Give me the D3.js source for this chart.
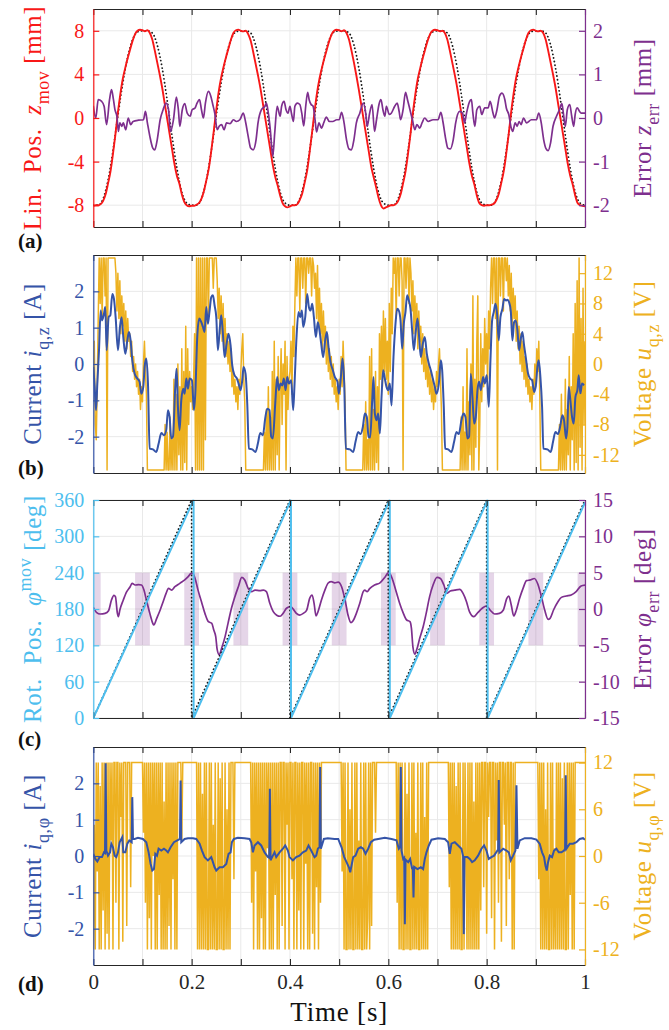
<!DOCTYPE html>
<html><head><meta charset="utf-8">
<script src="https://cdn.jsdelivr.net/npm/d3@7"></script>
<style>
body{margin:0;background:#fff;}
svg text{font-family:"Liberation Serif","Times New Roman","DejaVu Serif",serif;}
</style></head><body>
<svg id="c" width="669" height="1030"></svg>
<script>
// ---------------- DATA ----------------
const timeTicks = [0,0.1,0.2,0.3,0.4,0.5,0.6,0.7,0.8,0.9,1];
const timeLabels = ["0","","0.2","","0.4","","0.6","","0.8","","1"];

// (a) linear position z_mov [mm], sampled every 5 ms
const zMov = [
-8.05,-8.0,-8.0,-7.9,-7.6,-7.0,-6.0,-4.9,-3.3,-1.5,
0.5,2.2,3.6,4.6,5.5,6.3,7.1,7.7,8.0,8.1,
8.05,7.95,8.05,7.8,7.2,6.2,5.1,4.0,2.8,1.4,
0.0,-1.4,-2.8,-4.2,-5.3,-6.0,-7.0,-7.7,-8.0,-8.1,
-8.05,-8.05,-7.95,-7.8,-7.4,-6.7,-5.7,-4.6,-3.0,-1.2,
0.7,2.4,3.7,4.7,5.6,6.4,7.2,7.8,8.05,8.1,
8.0,7.95,8.0,7.7,7.1,6.1,5.0,3.9,2.7,1.3,
-0.1,-1.5,-2.9,-4.3,-5.4,-6.2,-7.1,-7.8,-8.1,-8.2,
-8.1,-8.0,-8.0,-7.9,-7.5,-6.9,-5.9,-4.8,-3.1,-1.3,
0.6,2.3,3.6,4.6,5.5,6.3,7.1,7.7,8.0,8.1,
8.05,7.95,8.05,7.8,7.2,6.2,5.1,3.9,2.6,1.2,
-0.2,-1.6,-3.0,-4.4,-5.4,-6.3,-7.3,-8.0,-8.3,-8.2,
-8.1,-8.0,-8.0,-7.9,-7.6,-7.0,-6.0,-4.9,-3.3,-1.5,
0.5,2.2,3.6,4.6,5.5,6.3,7.1,7.7,8.0,8.1,
8.05,7.95,8.0,7.8,7.2,6.2,5.1,4.0,2.8,1.4,
0.0,-1.4,-2.8,-4.2,-5.3,-6.1,-7.1,-7.8,-8.0,-8.05,
-8.0,-8.0,-7.95,-7.85,-7.5,-6.9,-5.9,-4.8,-3.2,-1.4,
0.6,2.3,3.7,4.7,5.6,6.4,7.2,7.8,8.05,8.1,
8.0,7.95,8.0,7.8,7.2,6.2,5.1,4.0,2.8,1.4,
0.0,-1.4,-2.8,-4.2,-5.3,-6.1,-7.1,-7.8,-8.0,-8.05,
-8.1];
// (a) reference z [mm], sampled every 10 ms
const zRef = [
-8,-8,-7.4,-5.7,-3.0,0.2,3.2,5.6,7.2,7.9,8.0,8.0,7.8,6.7,4.6,1.7,-1.6,-4.6,-6.8,-7.8,
-8,-8,-7.4,-5.7,-3.0,0.2,3.2,5.6,7.2,7.9,8.0,8.0,7.8,6.7,4.6,1.7,-1.6,-4.6,-6.8,-7.8,
-8,-8,-7.4,-5.7,-3.0,0.2,3.2,5.6,7.2,7.9,8.0,8.0,7.8,6.7,4.6,1.7,-1.6,-4.6,-6.8,-7.8,
-8,-8,-7.4,-5.7,-3.0,0.2,3.2,5.6,7.2,7.9,8.0,8.0,7.8,6.7,4.6,1.7,-1.6,-4.6,-6.8,-7.8,
-8,-8,-7.4,-5.7,-3.0,0.2,3.2,5.6,7.2,7.9,8.0,8.0,7.8,6.7,4.6,1.7,-1.6,-4.6,-6.8,-7.8,
-8];
// (a) error z_err [mm]: [time s, value]
const zErr = [
[0,0.28],[0.005,0.0],[0.010,0.42],[0.017,0.38],[0.022,0.27],[0.027,-0.15],[0.033,0.42],[0.037,0.65],[0.041,0.42],[0.044,0.19],
[0.048,0.04],[0.051,-0.31],[0.054,-0.11],[0.058,-0.19],[0.061,-0.11],[0.066,-0.27],[0.071,0.0],[0.076,-0.15],[0.081,-0.08],[0.092,-0.05],
[0.102,-0.04],[0.106,0.15],[0.110,-0.11],[0.115,-0.42],[0.121,-0.69],[0.125,-0.73],[0.130,-0.5],[0.136,-0.04],[0.142,0.19],[0.148,0.34],
[0.153,0.19],[0.157,-0.31],[0.163,-0.04],[0.169,0.48],[0.173,0.19],[0.176,-0.19],[0.181,0.19],[0.186,0.33],[0.191,0.11],[0.197,0.04],
[0.201,0.19],[0.207,0.23],[0.211,0.34],[0.216,0.42],[0.220,0.19],[0.224,0.0],[0.228,0.34],[0.234,0.61],[0.239,0.5],[0.243,0.31],
[0.247,0.11],[0.252,-0.27],[0.256,-0.19],[0.261,-0.15],[0.266,-0.27],[0.271,-0.11],[0.278,-0.13],[0.285,-0.04],[0.291,-0.08],[0.298,-0.04],
[0.305,0.11],[0.310,-0.11],[0.315,-0.42],[0.320,-0.69],[0.325,-0.73],[0.331,-0.5],[0.335,-0.11],[0.342,0.19],[0.349,0.27],[0.352,0.34],
[0.356,0.11],[0.360,-0.27],[0.365,-0.88],[0.369,-0.34],[0.374,0.27],
[0.380,0.04],[0.383,0.27],[0.388,0.38],[0.392,0.19],[0.396,0.11],[0.400,0.27],[0.403,0.11],[0.407,-0.08],[0.410,0.27],[0.415,0.34],
[0.420,0.31],[0.424,0.11],[0.428,-0.18],[0.432,0.27],[0.436,0.59],[0.439,0.42],[0.443,0.31],[0.447,0.27],[0.451,-0.04],[0.454,-0.32],
[0.459,-0.11],[0.464,-0.23],[0.469,-0.10],[0.474,0.02],[0.480,-0.08],[0.487,-0.08],[0.495,-0.04],[0.500,-0.04],[0.505,0.13],[0.510,-0.11],
[0.515,-0.5],[0.520,-0.71],[0.525,-0.73],[0.530,-0.5],[0.535,-0.11],[0.542,0.11],[0.549,0.34],[0.554,0.11],[0.557,-0.19],[0.562,0.11],
[0.567,0.31],[0.572,-0.31],[0.576,-0.04],[0.581,0.31],[0.585,0.42],[0.589,0.19],[0.593,0.04],[0.596,0.27],[0.602,0.08],[0.606,0.11],
[0.613,0.27],[0.618,0.34],[0.622,0.15],[0.625,-0.04],[0.630,0.19],[0.635,0.59],[0.639,0.42],[0.644,0.19],[0.649,-0.04],[0.654,-0.27],
[0.658,-0.15],[0.664,-0.23],[0.669,-0.10],[0.674,0.0],[0.681,-0.08],[0.691,-0.04],[0.701,-0.04],[0.707,0.13],[0.711,-0.08],[0.717,-0.5],
[0.721,-0.69],[0.726,-0.71],[0.732,-0.5],[0.737,-0.11],[0.745,0.15],[0.751,0.11],[0.755,-0.11],[0.759,0.11],[0.764,0.34],[0.769,0.42],
[0.772,0.11],[0.776,-0.19],[0.780,0.19],[0.786,0.27],[0.790,0.08],[0.796,0.23],[0.803,0.23],[0.807,0.38],[0.813,0.11],[0.816,0.0],
[0.821,0.19],[0.826,0.50],[0.831,0.57],[0.837,0.42],[0.840,0.23],[0.845,0.08],[0.850,-0.23],[0.853,-0.31],[0.858,-0.11],[0.862,-0.19],
[0.866,-0.08],[0.870,-0.15],[0.875,0.0],[0.881,-0.11],[0.891,-0.04],[0.901,-0.04],[0.906,0.11],[0.911,-0.11],[0.916,-0.5],[0.921,-0.71],
[0.925,-0.75],[0.930,-0.57],[0.935,-0.19],[0.942,0.04],[0.948,0.19],[0.953,0.33],[0.956,0.11],[0.960,-0.19],[0.964,0.19],[0.969,0.31],
[0.973,0.04],[0.977,-0.19],[0.980,0.08],[0.984,0.23],[0.989,0.15],[0.992,0.11],[0.996,0.11],[1.0,0.11]];

// (b) current i_q,z [A]: [time s, value]
const iqz = [
[0,-0.08],[0.0028,-0.63],[0.0055,-1.27],[0.0082,-0.54],[0.0116,0.38],[0.015,1.47],[0.0177,1.2],[0.0211,1.34],[0.0244,1.57],[0.0271,0.38],
[0.0312,1.29],[0.0346,1.34],[0.0387,1.93],[0.042,1.79],[0.0454,1.29],[0.0502,0.38],[0.0542,1.02],[0.0576,1.29],[0.061,0.74],[0.0651,0.28],
[0.0692,0.65],[0.0725,0.88],[0.0759,0.65],[0.0793,0.1],[0.0841,-0.27],[0.0895,-0.4],[0.0942,-0.49],[0.0976,-0.82],[0.1017,-0.63],[0.1044,-0.08],
[0.1078,0.15],[0.1112,-0.54],[0.1146,-2.33],[0.1213,-2.35],[0.1281,-2.42],[0.1329,-2.19],[0.1383,-1.9],[0.1437,-1.96],[0.1484,-1.82],[0.1518,-1.27],
[0.1552,-1.46],[0.1586,-2.05],[0.162,-2.0],[0.1667,-0.63],[0.1694,-0.13],[0.1721,-1.18],[0.1755,-1.82],[0.1789,-1.0],[0.183,-0.68],[0.1857,-0.82],
[0.1891,-0.4],[0.1925,-0.68],[0.1959,-0.4],[0.2006,-0.45],[0.2047,-1.27],[0.2074,-0.82],[0.2114,0.74],[0.2155,1.25],[0.2196,1.15],[0.223,1.02],
[0.2263,0.88],[0.2297,1.57],[0.2331,1.11],[0.2365,1.47],[0.2399,1.84],[0.2433,1.89],[0.2467,1.61],[0.2501,1.29],[0.2534,0.38],[0.2575,1.02],
[0.2602,1.34],[0.2636,0.83],[0.267,0.19],[0.2711,0.56],[0.2751,0.83],[0.2792,0.51],[0.2826,-0.04],[0.2873,-0.31],[0.2921,-0.4],[0.2955,-0.54],
[0.2995,-0.72],[0.3029,-0.45],[0.3056,-0.08],[0.3097,-0.27],[0.3131,-1.09],[0.3164,-2.33],[0.3232,-2.35],[0.33,-2.42],[0.3347,-2.19],[0.3395,-1.9],
[0.3449,-1.96],[0.3496,-1.5],[0.3537,-1.23],[0.3584,-1.27],[0.3618,-2.0],[0.3652,-2.05],[0.37,-1.09],[0.374,-0.36],[0.3774,-0.72],[0.3808,-0.54],
[0.3842,-0.59],[0.3876,-0.4],[0.391,-0.72],[0.3944,-0.36],[0.3977,-0.54],[0.4025,-0.45],[0.4065,-1.27],[0.4093,-0.54],[0.4133,0.74],[0.4174,1.43],
[0.4208,1.29],[0.4242,1.47],[0.4269,1.02],[0.431,1.29],[0.435,1.93],[0.4384,1.57],[0.4418,1.47],[0.4452,1.66],[0.4486,1.29],[0.4526,0.74],
[0.4567,1.15],[0.4601,0.92],[0.4635,0.56],[0.4675,0.19],[0.4716,0.65],[0.475,0.88],[0.4784,0.47],[0.4824,0.05],[0.4872,-0.17],[0.4913,-0.36],
[0.4967,-0.49],[0.4994,-0.82],[0.5035,-0.36],[0.5069,0.15],[0.5103,-0.54],[0.5137,-2.33],[0.5218,-2.35],[0.5286,-2.42],[0.5333,-2.14],[0.5387,-1.87],
[0.5435,-1.93],[0.5482,-1.73],[0.5523,-1.36],[0.5563,-1.46],[0.5597,-2.0],[0.5631,-2.02],[0.5672,-1.0],[0.5699,-0.36],[0.5726,-1.36],[0.576,-1.55],
[0.5794,-1.36],[0.5828,-1.91],[0.5862,-0.91],[0.5895,-0.17],[0.5929,-0.4],[0.5963,-0.63],[0.5997,-0.72],[0.6031,-0.54],[0.6065,-1.14],[0.6105,0.19],
[0.6146,1.11],[0.618,1.52],[0.6214,1.47],[0.6248,1.2],[0.6282,0.42],[0.6315,1.11],[0.6349,1.43],[0.6383,1.89],[0.6417,1.75],[0.6451,1.52],
[0.6485,0.92],[0.6519,0.38],[0.6553,0.83],[0.6593,1.25],[0.6627,0.74],[0.6661,0.19],[0.6702,0.56],[0.6742,0.74],[0.6783,0.28],[0.6824,0.01],
[0.6864,-0.17],[0.6905,-0.4],[0.6946,-0.63],[0.698,-0.82],[0.7027,-0.54],[0.7068,0.1],[0.7095,-0.17],[0.7128,-1.18],[0.7156,-2.33],[0.7216,-2.35],
[0.7284,-2.42],[0.7338,-2.14],[0.7386,-1.87],[0.7433,-1.93],[0.7487,-1.55],[0.7528,-1.36],[0.7569,-1.46],[0.7609,-2.05],[0.7643,-2.0],[0.7677,-0.27],
[0.7711,-0.91],[0.7745,-1.64],[0.7779,-1.46],[0.7813,-0.72],[0.7847,-0.49],[0.7881,-0.72],[0.7928,-0.36],[0.7962,-0.54],[0.8002,-0.31],[0.8043,-1.18],
[0.8077,0.1],[0.8111,1.2],[0.8145,1.43],[0.8179,1.66],[0.8212,1.38],[0.8246,0.65],[0.828,1.29],[0.8321,1.52],[0.8355,1.79],[0.8389,1.75],
[0.8422,1.77],[0.8456,1.7],[0.849,1.47],[0.8524,0.65],[0.8558,1.15],[0.8592,1.2],[0.8626,0.92],[0.866,0.38],[0.8694,0.7],[0.8727,0.88],
[0.8761,0.51],[0.8795,0.19],[0.8843,-0.27],[0.8883,-0.4],[0.8924,-0.45],[0.8965,-0.77],[0.9005,-0.54],[0.9032,-0.08],[0.9059,0.1],[0.9093,-0.36],
[0.9127,-1.18],[0.9154,-2.33],[0.9235,-2.35],[0.9303,-2.42],[0.935,-2.14],[0.9398,-1.87],[0.9452,-1.93],[0.9499,-1.69],[0.954,-1.41],[0.9574,-1.55],
[0.9615,-2.05],[0.9642,-1.73],[0.9669,-0.63],[0.9696,-0.91],[0.9737,-1.46],[0.9771,-1.64],[0.9805,-0.91],[0.9845,-0.72],[0.9872,-0.31],[0.9906,-0.82],
[0.994,-0.54],[0.998,-0.59]];

// (b) voltage u_q,z [V], sampled every 2 ms
const uqz = [
-2,3,-8,-10,-3,6,14,8,14,6,
14,14,9,14,-14,14,14,14,14,14,
14,14,14,12,7,12,6,11,4,9,
5,8,3,7,2,6,3,4,1,3,
-1,1,-2,0,-3,-1,-4,-2,-6,-3,
-5,0,3,-1,-4,-14,-14,-14,-14,-14,
-14,-14,-14,-14,-14,-14,-14,-14,-14,-14,
-14,-14,-14,-8,-14,-9,-14,-14,-7,-14,
-10,-14,-2,-14,-4,-14,0,-12,-3,-14,
2,-14,-1,-13,5,-14,2,-8,-1,-5,
-3,-6,-2,4,-14,14,-14,14,-14,14,
-14,14,-14,14,-10,14,14,6,14,14,
14,14,10,14,14,14,11,6,10,4,
9,3,8,2,6,1,4,0,3,-1,
2,-3,-1,-4,-2,-5,-3,-6,-2,-4,
-1,2,4,-2,-5,-14,-14,-14,-14,-14,
-14,-14,-14,-14,-14,-14,-14,-14,-14,-14,
-14,-14,-14,-14,-9,-14,-6,-14,-3,-14,
-7,-14,-1,-14,3,-14,-2,-12,1,-14,
-3,2,-8,0,-4,3,-14,1,-6,-2,
-1,3,-4,5,1,8,14,9,14,14,
7,14,14,10,14,14,8,14,14,12,
14,14,9,14,13,10,12,6,13,5,
10,4,8,2,7,3,5,0,4,-1,
2,-2,1,-3,0,-4,-2,-5,-3,-6,
-2,-4,1,-3,3,-1,-5,-14,-14,-14,
-14,-14,-14,-14,-14,-14,-14,-14,-14,-14,
-14,-14,-14,-14,-14,-8,-14,-5,-14,-10,
-14,1,-14,2,-14,-6,-14,-1,-13,-3,
-14,4,-2,5,-3,7,-1,6,-2,3,
-4,8,-1,10,4,14,12,14,6,14,
14,9,14,14,11,-14,14,14,10,14,
14,8,14,12,7,11,4,9,5,8,
2,7,3,5,0,4,-1,2,-2,1,
-3,0,-4,-1,-5,-2,-6,-3,-5,-1,
-3,0,2,-2,-6,-14,-14,-14,-14,-14,
-14,-14,-14,-14,-14,-14,-14,-14,-14,-14,
-14,-14,-14,-14,-7,-14,-3,-14,-9,-14,
2,-14,-5,-12,0,-14,9,-14,-2,-11,
3,9,-14,-8,4,-5,2,-3,6,0,
4,-2,7,2,10,14,8,14,14,6,
14,-14,14,14,9,14,14,7,14,14,
11,14,9,13,7,12,5,10,6,9,
3,7,2,5,0,4,-1,3,-2,1,
-3,0,-4,-2,-5,-3,-6,-2,-4,0,
-3,2,-1,3,-4,-14,-14,-14,-14,-14,
-14,-14,-14,-14,-14,-14,-14,-14,-14,-14,
-14,-14,-14,-14,-8,-14,-4,-14,-7,-14,
-2,-14,-6,-12,1,-14,-3,-10,4,-14,
8,-13,11,-14,14,-11,6,-14,10,-8,3];

// (c) rotary position phi_mov [deg] and reference: [time s, value]
const phiMov = [[0,0],[0.204,360],[0.204,0],[0.402,360],[0.402,0],[0.603,360],[0.603,0],[0.802,360],[0.802,0],[1.0,356]];
const phiRef = [[0,0],[0.2,360],[0.2,0],[0.4,360],[0.4,0],[0.6,360],[0.6,0],[0.8,360],[0.8,0],[1.0,360]];
// (c) shaded windows (centre time s), half width and error band [deg]
const shadeCentres = [0,0.1,0.2,0.3,0.4,0.5,0.6,0.7,0.8,0.9,1.0];
const shadeHalfWidth = 0.015;
const shadeBand = [-5,5];
// (c) error phi_err [deg]
const phiErr = [
[0,0.23],[0.007,-0.5],[0.014,-0.69],[0.024,-0.6],[0.031,-0.23],[0.037,1.24],[0.042,1.88],[0.045,1.7],[0.049,-0.6],[0.051,-1.06],
[0.054,-0.14],[0.061,1.24],[0.068,2.39],[0.075,3.07],[0.079,3.53],[0.085,3.3],[0.092,3.35],[0.098,3.3],[0.103,2.6],[0.108,1.24],
[0.115,-0.6],[0.121,-1.97],[0.123,-2.2],[0.129,-1.28],[0.136,-0.14],[0.142,1.0],[0.148,2.16],[0.153,2.84],[0.159,2.6],[0.166,3.07],
[0.176,3.53],[0.186,4.0],[0.193,4.45],[0.199,4.9],[0.202,4.9],[0.207,4.2],[0.213,2.6],[0.220,1.0],[0.227,-0.6],[0.234,-1.74],
[0.241,-1.97],[0.245,-2.9],[0.249,-3.8],[0.252,-5.6],[0.256,-6.3],[0.261,-5.4],[0.268,-3.8],[0.274,-1.97],[0.281,0.1],[0.288,1.7],
[0.295,3.07],[0.302,4.36],[0.308,4.0],[0.315,2.84],[0.322,2.39],[0.329,2.6],[0.339,2.52],[0.346,2.6],[0.352,2.39],[0.359,0.78],
[0.366,-0.37],[0.373,-0.85],[0.380,-1.0],[0.386,-0.6],[0.393,0.1],[0.401,0.32],[0.407,-0.05],[0.413,-0.6],[0.420,-0.83],[0.427,-0.6],
[0.434,-0.14],[0.440,1.47],[0.445,1.93],[0.449,0.78],[0.453,-0.96],[0.457,-0.37],[0.464,1.24],[0.471,2.6],[0.478,3.6],[0.484,3.76],
[0.491,3.6],[0.498,3.7],[0.505,3.07],[0.512,1.24],[0.518,-0.83],[0.524,-1.88],[0.528,-1.65],[0.535,-0.6],[0.542,0.78],[0.549,2.39],
[0.552,2.6],[0.557,2.39],[0.562,2.8],[0.572,3.3],[0.583,3.6],[0.593,4.36],[0.600,5.0],[0.604,4.8],[0.610,3.76],[0.617,2.16],
[0.623,0.78],[0.630,-0.5],[0.637,-1.5],[0.644,-1.74],[0.647,-2.66],[0.650,-5.2],[0.654,-6.2],[0.658,-5.55],[0.664,-4.0],[0.671,-2.4],
[0.677,-0.6],[0.684,1.7],[0.691,3.3],[0.699,4.36],[0.706,4.2],[0.713,3.3],[0.719,2.16],[0.726,2.48],[0.735,2.6],[0.745,2.7],
[0.752,2.16],[0.759,1.0],[0.765,-0.37],[0.774,-1.06],[0.782,-0.5],[0.791,0.1],[0.799,0.41],[0.807,-0.14],[0.816,-0.69],[0.826,-0.6],
[0.834,-0.14],[0.841,1.47],[0.845,1.79],[0.850,0.55],[0.855,-0.96],[0.860,-0.23],[0.867,1.47],[0.874,2.84],[0.881,3.9],[0.889,4.0],
[0.897,4.2],[0.904,3.44],[0.911,1.79],[0.918,-0.14],[0.925,-1.42],[0.929,-1.28],[0.936,-0.14],[0.945,1.0],[0.952,1.6],[0.962,1.79],
[0.972,1.93],[0.982,2.39],[0.992,3.17],[1.0,3.3]];

// (d) current i_q,phi [A]: [time s, value]
const iqphi = [
[0,0.06],[0.0041,-0.08],[0.0082,-0.15],[0.0129,-0.03],[0.0177,-0.03],[0.0217,0.1],[0.0238,0.08],[0.0251,2.55],[0.0265,0.15],[0.0299,0.01],
[0.034,0.1],[0.0366,0.34],[0.04,0.24],[0.0434,0.01],[0.0468,-0.03],[0.0502,0.1],[0.0536,0.38],[0.057,0.47],[0.059,0.52],[0.061,0.1],
[0.0651,0.1],[0.0692,0.34],[0.0732,0.43],[0.078,0.38],[0.0793,1.62],[0.0807,0.47],[0.0841,0.47],[0.0908,0.5],[0.101,0.47],[0.1078,0.38],
[0.1125,0.1],[0.1166,-0.22],[0.12,-0.4],[0.1234,-0.36],[0.1261,0.06],[0.1295,0.01],[0.1328,0.2],[0.1383,0.15],[0.1437,0.2],[0.1484,0.15],
[0.1518,0.1],[0.1572,0.24],[0.164,0.38],[0.1708,0.43],[0.1762,0.47],[0.1776,2.08],[0.1789,0.38],[0.1857,0.47],[0.1925,0.49],[0.2026,0.49],
[0.2094,0.47],[0.2162,0.34],[0.221,0.15],[0.2264,-0.03],[0.2331,-0.12],[0.2399,-0.03],[0.2433,-0.17],[0.2467,-0.31],[0.2501,-0.4],[0.2568,-0.31],
[0.2636,-0.31],[0.2704,-0.22],[0.2751,0.06],[0.2792,0.1],[0.2819,0.38],[0.286,0.47],[0.2941,0.5],[0.3076,0.49],[0.3178,0.47],[0.3212,0.38],
[0.3246,0.1],[0.328,0.29],[0.3348,0.38],[0.3415,0.29],[0.3483,0.1],[0.3551,-0.03],[0.3578,-0.05],[0.3591,1.85],[0.3605,-0.12],[0.3652,0.01],
[0.3686,0.1],[0.372,-0.03],[0.3788,0.1],[0.3856,0.2],[0.3903,0.29],[0.3957,0.15],[0.3991,-0.03],[0.4059,-0.12],[0.4126,-0.03],[0.4194,0.01],
[0.4262,0.1],[0.433,0.15],[0.4377,0.29],[0.4431,0.15],[0.4499,-0.03],[0.4533,0.01],[0.4567,0.2],[0.4601,0.25],[0.4614,2.45],[0.4628,0.2],
[0.4689,0.47],[0.477,0.49],[0.4906,0.47],[0.4981,0.47],[0.5049,0.24],[0.5103,-0.03],[0.515,-0.17],[0.5198,-0.31],[0.5225,-0.45],[0.5252,-0.26],
[0.5286,-0.03],[0.5333,0.01],[0.5387,0.2],[0.5441,0.24],[0.5489,0.2],[0.5536,0.06],[0.559,0.2],[0.5645,0.38],[0.5712,0.45],[0.5794,0.47],
[0.5929,0.5],[0.6065,0.47],[0.6166,0.43],[0.6214,0.2],[0.6241,0.25],[0.6254,2.45],[0.6268,0.15],[0.6302,-0.08],[0.6322,-0.05],[0.6336,-1.88],
[0.635,-0.1],[0.6404,-0.17],[0.6444,-0.08],[0.6485,-0.36],[0.6498,-0.3],[0.6512,-1.14],[0.6526,-0.3],[0.6593,-0.36],[0.6661,-0.31],[0.6708,-0.36],
[0.6742,-0.08],[0.6776,0.1],[0.6824,0.29],[0.6878,0.45],[0.7013,0.49],[0.7149,0.47],[0.7216,0.38],[0.725,0.06],[0.7284,0.34],[0.7352,0.38],
[0.742,0.29],[0.7487,0.2],[0.7521,0.0],[0.7535,-2.15],[0.7549,-0.03],[0.761,-0.03],[0.7657,-0.08],[0.7704,-0.17],[0.7758,-0.12],[0.7826,0.01],
[0.7894,0.2],[0.7948,0.29],[0.7996,0.15],[0.8043,-0.08],[0.8097,-0.03],[0.8151,0.01],[0.8219,0.15],[0.8233,0.15],[0.8246,2.09],[0.826,0.1],
[0.8334,0.2],[0.8402,0.15],[0.845,0.1],[0.849,-0.12],[0.8538,0.01],[0.8585,0.15],[0.8606,1.95],[0.8626,0.2],[0.8673,0.43],[0.8775,0.49],
[0.891,0.49],[0.9012,0.45],[0.908,0.33],[0.9127,0.1],[0.9168,-0.03],[0.9195,-0.26],[0.9222,-0.4],[0.9249,-0.17],[0.9283,0.01],[0.933,-0.03],
[0.9371,0.15],[0.9418,0.2],[0.9466,0.1],[0.952,0.1],[0.9574,0.15],[0.9595,0.2],[0.9608,2.22],[0.9622,0.2],[0.969,0.34],[0.9757,0.34],
[0.9825,0.38],[0.9893,0.47],[0.996,0.49],[1.0,0.45]];

// (d) voltage u_q,phi [V], sampled every 2 ms
const uqphi = [
-12,4,-12,12,-2,12,-12,9,-12,12,
-7,12,-12,12,-10,12,-12,12,2,12,
-12,12,12,-6,12,12,-12,12,5,12,
-11,12,12,12,-9,12,12,12,-4,12,
12,12,12,12,12,12,12,12,12,12,
12,3,12,-6,12,-12,12,-8,12,-12,
12,0,12,-12,12,-12,12,-5,12,-12,
12,-12,7,-12,12,-12,12,-9,12,-12,
12,-3,12,-12,12,-12,12,12,12,12,
2,12,12,12,12,12,12,12,12,12,
12,12,12,12,12,12,-12,12,-12,12,
-12,8,-12,12,-12,12,-12,-12,12,-12,
12,-12,4,-12,12,-12,-12,12,-12,10,
-12,12,-12,-12,12,-12,6,-12,12,-12,
12,12,12,-3,12,12,12,12,12,12,
12,12,12,12,12,12,12,12,12,12,
12,-6,12,-12,12,-2,12,-12,12,-12,
12,-8,12,-12,12,-12,12,1,12,-12,
12,-12,12,-12,12,-5,12,-12,12,-12,
12,12,-9,12,12,-12,12,4,12,-12,
12,12,-3,12,-12,12,12,-12,12,-7,
12,-12,12,12,-12,12,-1,12,-12,12,
-12,12,12,-10,12,-12,12,-4,12,-12,
12,-6,12,12,12,12,12,12,12,12,
12,12,12,12,12,12,12,12,12,12,
12,12,12,-2,12,-12,12,-12,-12,12,
-12,6,-12,12,-12,-12,12,-12,12,-12,
2,-12,12,-12,-12,12,-12,12,-12,-8,
12,-12,12,-9,12,12,12,3,12,12,
12,12,12,12,12,12,12,12,12,12,
12,12,12,12,12,12,12,12,12,-6,
12,-12,12,-12,12,-12,-12,12,-12,8,
-12,12,-12,-12,12,-12,12,-12,3,-12,
12,-12,-12,12,-12,12,-12,5,-12,12,
-12,12,12,12,12,12,12,12,12,12,
12,12,12,12,12,12,12,12,12,12,
12,12,-4,12,-12,12,-12,12,-12,9,
-12,12,-12,12,-12,-12,12,-12,12,0,
-12,12,-12,12,-12,12,-12,7,-12,12,
-12,12,-12,12,-7,12,12,-4,12,12,
-10,12,5,12,12,-8,12,12,-12,12,
2,12,-6,12,12,-11,12,12,4,12,
-9,12,12,-3,12,12,-12,12,-12,12,
12,12,12,12,12,12,12,12,12,12,
12,12,12,12,12,12,12,12,12,12,
12,12,12,-3,12,-12,12,-12,12,-12,
6,-12,12,-12,-12,12,-12,12,-12,1,
-12,12,-12,12,-12,12,-12,10,-12,12,
-12,-12,12,-12,12,-5,12,-12,12,-12,
12,12,12,12,12,12,12,12,12,12,12];

// ---------------- DRAWING ----------------
const C = {red:"#f81818", purple:"#7e2f8e", blue:"#3554a8", yellow:"#edb120", cyan:"#4dbeee", axis:"#262626", grid:"#e9e9e9"};
const FONT = '"Liberation Serif","Times New Roman","DejaVu Serif",serif';
const svg = d3.select("#c");
const X0 = 93.3, X1 = 585, PH = 218;
const x = d3.scaleLinear().domain([0,1]).range([X0,X1]);
const TFS = 20, LFS = 25;
const uniform = arr => arr.map((v,i)=>[i/(arr.length-1), v]);

function mathText(g, parts, px, py, color){
  const t = g.append("text").attr("transform",`translate(${px},${py}) rotate(-90)`)
    .attr("text-anchor","middle").attr("font-size",LFS).attr("fill",color)
    .style("white-space","pre").attr("letter-spacing","0.6").style("font-family",FONT);
  let shift = 0;
  parts.forEach(p=>{
    const ts = t.append("tspan").text(p.t);
    const target = p.sub ? LFS*0.3 : (p.sup ? -LFS*0.42 : 0);
    if (target-shift !== 0) ts.attr("dy", target-shift);
    shift = target;
    if (p.sub||p.sup) ts.attr("font-size", LFS*0.72);
    if (p.i) ts.attr("font-style","italic");
  });
}

function panel(o){
  const top = o.top, bot = o.top + PH;
  const g = svg.append("g");
  const yL = d3.scaleLinear().domain(o.yL).range([bot,top]);
  const yR = d3.scaleLinear().domain(o.yR).range([bot,top]);
  g.append("g").selectAll("line").data(timeTicks).join("line")
    .attr("x1",d=>x(d)).attr("x2",d=>x(d)).attr("y1",top).attr("y2",bot)
    .attr("stroke",C.grid).attr("stroke-width",1);
  g.append("g").selectAll("line").data(o.tL).join("line")
    .attr("x1",X0).attr("x2",X1).attr("y1",d=>yL(d)).attr("y2",d=>yL(d))
    .attr("stroke",C.grid).attr("stroke-width",1);
  const cid = "clip"+o.id;
  svg.append("clipPath").attr("id",cid).append("rect")
    .attr("x",X0).attr("y",top-1).attr("width",X1-X0).attr("height",PH+2);
  const plot = g.append("g").attr("clip-path",`url(#${cid})`);
  o.draw(plot, yL, yR);
  const ax = g.append("g").attr("transform",`translate(0,${top})`)
    .call(d3.axisTop(x).tickValues(timeTicks).tickSizeInner(-6).tickSizeOuter(0).tickFormat(""));
  const bx = g.append("g").attr("transform",`translate(0,${bot})`)
    .call(d3.axisBottom(x).tickValues(timeTicks).tickSizeInner(-6).tickSizeOuter(0).tickPadding(9)
      .tickFormat((d,i)=> o.xlab ? timeLabels[i] : ""));
  [ax,bx].forEach(a=>{
    a.selectAll("path,line").attr("stroke",C.axis).attr("stroke-width",1.1);
    a.selectAll("text").attr("font-size",TFS+1).attr("fill",C.axis).style("font-family",FONT);
  });
  const la = g.append("g").attr("transform",`translate(${X0},0)`)
    .call(d3.axisLeft(yL).tickValues(o.tL).tickSizeInner(-6).tickSizeOuter(0).tickPadding(9).tickFormat(d=>String(d)));
  const ra = g.append("g").attr("transform",`translate(${X1},0)`)
    .call(d3.axisRight(yR).tickValues(o.tR).tickSizeInner(-6).tickSizeOuter(0).tickPadding(8).tickFormat(d=>String(d)));
  [[la,o.cL],[ra,o.cR]].forEach(([a,c])=>{
    a.selectAll("path,line").attr("stroke",c).attr("stroke-width",1.2);
    a.selectAll("text").attr("font-size",TFS).attr("fill",c).style("font-family",FONT);
  });
  const mid = (top+bot)/2;
  mathText(g, o.titleL, 41, mid, o.cL);
  mathText(g, o.titleR, 651, mid, o.cR);
  g.append("text").attr("x",18).attr("y",o.labY).attr("font-size",21).attr("font-weight","bold")
    .attr("fill","#111").style("font-family",FONT).text(o.lab);
}

const lineXY = y => d3.line().x(d=>x(d[0])).y(d=>y(d[1]));

panel({id:"a", top:9, yL:[-10,10], yR:[-2.5,2.5], tL:[-8,-4,0,4,8], tR:[-2,-1,0,1,2],
  cL:C.red, cR:C.purple, lab:"(a)", labY:248,
  titleL:[{t:"Lin.  Pos.  "},{t:"z",i:1},{t:"mov",sub:1},{t:" [mm]"}],
  titleR:[{t:"Error "},{t:"z",i:1},{t:"err",sub:1},{t:" [mm]"}],
  draw:(p,yL,yR)=>{
    p.append("path").datum(uniform(zRef)).attr("fill","none").attr("stroke","#1a1a1a").attr("stroke-width",1.8)
      .attr("stroke-dasharray","0.1,3.6").attr("stroke-linecap","round")
      .attr("d",lineXY(yL).curve(d3.curveMonotoneX));
    p.append("path").datum(uniform(zMov)).attr("fill","none").attr("stroke",C.red).attr("stroke-width",1.9)
      .attr("d",lineXY(yL).curve(d3.curveMonotoneX));
    p.append("path").datum(zErr).attr("fill","none").attr("stroke",C.purple).attr("stroke-width",1.7)
      .attr("d",lineXY(yR).curve(d3.curveMonotoneX));
  }});

panel({id:"b", top:255, yL:[-3,3], yR:[-14.4,14.4], tL:[-2,-1,0,1,2], tR:[-12,-8,-4,0,4,8,12],
  cL:C.blue, cR:C.yellow, lab:"(b)", labY:475,
  titleL:[{t:"Current "},{t:"i",i:1},{t:"q,z",sub:1},{t:" [A]"}],
  titleR:[{t:"Voltage "},{t:"u",i:1},{t:"q,z",sub:1},{t:" [V]"}],
  draw:(p,yL,yR)=>{
    p.append("path").datum(uniform(uqz)).attr("fill","none").attr("stroke",C.yellow).attr("stroke-width",1.5)
      .attr("stroke-linejoin","round").attr("d",lineXY(yR));
    p.append("path").datum(iqz).attr("fill","none").attr("stroke",C.blue).attr("stroke-width",2)
      .attr("d",lineXY(yL).curve(d3.curveMonotoneX));
  }});

panel({id:"c", top:500, yL:[0,360], yR:[-15,15], tL:[0,60,120,180,240,300,360], tR:[-15,-10,-5,0,5,10,15],
  cL:C.cyan, cR:C.purple, lab:"(c)", labY:746,
  titleL:[{t:"Rot.  Pos.  "},{t:"φ",i:1},{t:"mov",sup:1},{t:" [deg]"}],
  titleR:[{t:"Error "},{t:"φ",i:1},{t:"err",sub:1},{t:" [deg]"}],
  draw:(p,yL,yR)=>{
    p.append("g").selectAll("rect").data(shadeCentres).join("rect")
      .attr("x",d=>x(d-shadeHalfWidth)).attr("width",d=>x(d+shadeHalfWidth)-x(d-shadeHalfWidth))
      .attr("y",yR(shadeBand[1])).attr("height",yR(shadeBand[0])-yR(shadeBand[1]))
      .attr("fill",C.purple).attr("fill-opacity",0.2);
    p.append("path").datum(phiErr).attr("fill","none").attr("stroke",C.purple).attr("stroke-width",1.7)
      .attr("d",lineXY(yR).curve(d3.curveMonotoneX));
    p.append("path").datum(phiRef).attr("fill","none").attr("stroke","#1a1a1a").attr("stroke-width",1.8)
      .attr("stroke-dasharray","0.1,3.6").attr("stroke-linecap","round").attr("d",lineXY(yL));
    p.append("path").datum(phiMov).attr("fill","none").attr("stroke",C.cyan).attr("stroke-width",2)
      .attr("d",lineXY(yL));
  }});

panel({id:"d", top:747, yL:[-3,3], yR:[-14,14], tL:[-2,-1,0,1,2], tR:[-12,-6,0,6,12],
  cL:C.blue, cR:C.yellow, lab:"(d)", labY:991, xlab:true,
  titleL:[{t:"Current "},{t:"i",i:1},{t:"q,φ",sub:1},{t:" [A]"}],
  titleR:[{t:"Voltage "},{t:"u",i:1},{t:"q,φ",sub:1},{t:" [V]"}],
  draw:(p,yL,yR)=>{
    p.append("path").datum(uniform(uqphi)).attr("fill","none").attr("stroke",C.yellow).attr("stroke-width",1.5)
      .attr("d",lineXY(yR));
    p.append("path").datum(iqphi).attr("fill","none").attr("stroke",C.blue).attr("stroke-width",2)
      .attr("d",lineXY(yL));
  }});

svg.append("text").attr("x",x(0.5)).attr("y",1021).attr("text-anchor","middle")
  .attr("font-size",27).attr("letter-spacing","0.8").attr("fill","#111").style("font-family",FONT).text("Time [s]");
</script></body></html>
